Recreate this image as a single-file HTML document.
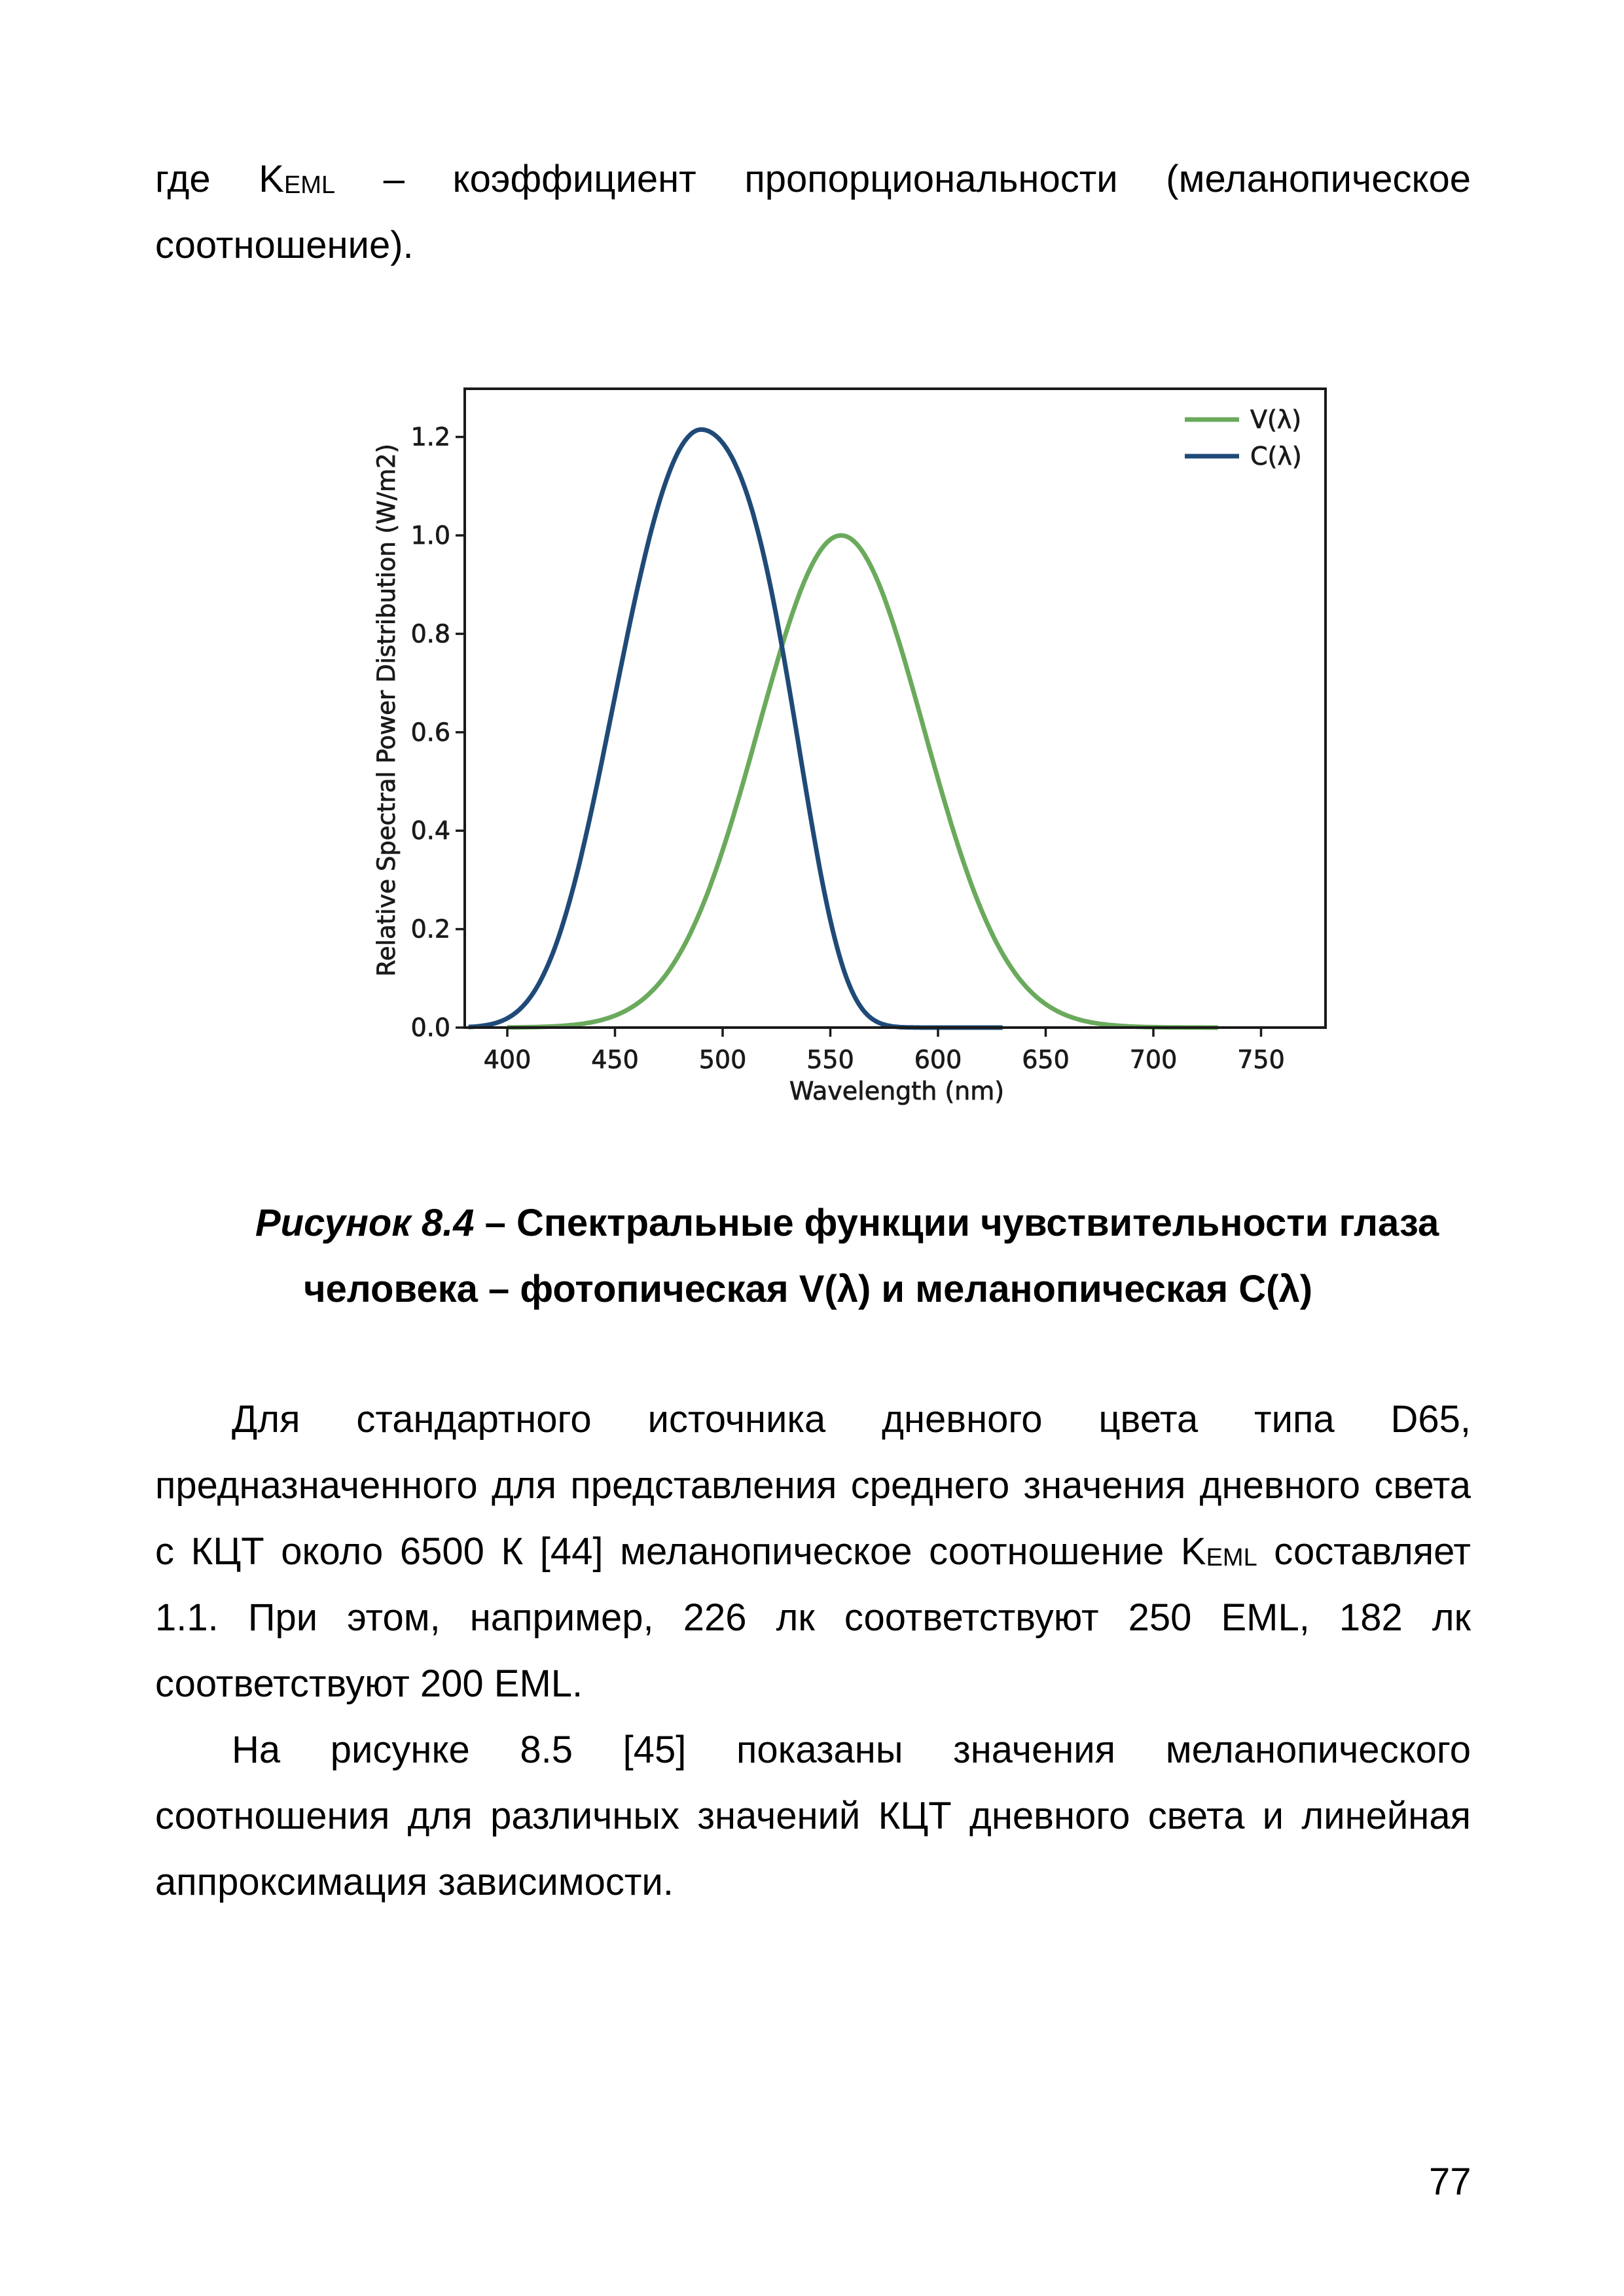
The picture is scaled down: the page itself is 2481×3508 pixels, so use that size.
<!DOCTYPE html>
<html><head><meta charset="utf-8">
<style>
html,body{margin:0;padding:0;background:#fff;}
body{width:2481px;height:3508px;position:relative;overflow:hidden;font-family:"Liberation Sans","Noto Sans CJK SC",sans-serif;color:#000;}
.l{position:absolute;font-size:58px;line-height:58px;white-space:nowrap;}
.j{text-align:justify;text-align-last:justify;white-space:normal;}
sub{font-size:38px;vertical-align:baseline;position:relative;top:2px;}
.b{font-weight:bold;}
svg{position:absolute;left:0;top:0;}
</style></head><body>
<div class="l j" style="left:237px;width:2010px;top:245px">где K<sub>EML</sub> – коэффициент пропорциональности (меланопическое</div>
<div class="l" style="left:237px;top:346px">соотношение).</div>

<svg width="2481" height="1800" viewBox="0 0 2481 1800" font-family="DejaVu Sans, Liberation Sans, sans-serif">
<g id="curves" fill="none" stroke-width="7" stroke-linejoin="round"></g>
<rect x="710" y="594" width="1315" height="976" fill="none" stroke="#1a1a1a" stroke-width="4"/>
<g stroke="#1a1a1a" stroke-width="3.5" id="ticks"></g>
<g font-size="38" fill="#1a1a1a" stroke="#1a1a1a" stroke-width="0.8" id="labels"></g>
<text x="1370" y="1680" font-size="38" fill="#1a1a1a" stroke="#1a1a1a" stroke-width="0.8" text-anchor="middle">Wavelength (nm)</text>
<text transform="translate(603,1085) rotate(-90)" font-size="37" fill="#1a1a1a" stroke="#1a1a1a" stroke-width="0.8" text-anchor="middle">Relative Spectral Power Distribution (W/m2)</text>
<line x1="1810" y1="641" x2="1893" y2="641" stroke="#6aaa5c" stroke-width="7"/>
<line x1="1810" y1="697" x2="1893" y2="697" stroke="#1f4a78" stroke-width="7"/>
<text x="1910" y="654" font-size="38" fill="#1a1a1a" stroke="#1a1a1a" stroke-width="0.8">V(λ)</text>
<text x="1910" y="710" font-size="38" fill="#1a1a1a" stroke="#1a1a1a" stroke-width="0.8">C(λ)</text>
</svg>

<div class="l b" style="left:390px;top:1840px"><i>Рисунок 8.4</i> – Спектральные функции чувствительности глаза</div>
<div class="l b" style="left:464px;top:1941px">человека – фотопическая V(λ) и меланопическая C(λ)</div>

<div class="l j" style="left:354px;width:1893px;top:2140px">Для стандартного источника дневного цвета типа D65,</div>
<div class="l j" style="left:237px;width:2010px;top:2241px">предназначенного для представления среднего значения дневного света</div>
<div class="l j" style="left:237px;width:2010px;top:2342px">с КЦТ около 6500 К [44] меланопическое соотношение K<sub>EML</sub> составляет</div>
<div class="l j" style="left:237px;width:2010px;top:2443px">1.1. При этом, например, 226 лк соответствуют 250 EML, 182 лк</div>
<div class="l" style="left:237px;top:2544px">соответствуют 200 EML.</div>
<div class="l j" style="left:354px;width:1893px;top:2645px">На рисунке 8.5 [45] показаны значения меланопического</div>
<div class="l j" style="left:237px;width:2010px;top:2746px">соотношения для различных значений КЦТ дневного света и линейная</div>
<div class="l" style="left:237px;top:2847px">аппроксимация зависимости.</div>

<div class="l" style="left:2183px;top:3305px">77</div>

<script>
(function(){
var NS="http://www.w3.org/2000/svg";
function X(l){return 775+(l-400)*3.29;}
var B=1570,S=752;
function Y(v){return B-v*S;}
function V(l){var d=l-555,s=38.5;return Math.exp(-0.5*d*d/(s*s));}
function C(l){var d=l-490,d2=d*d,a,b;
 if(d<0){a=3.335e-4;b=2.23e-8;}else{a=2.19e-4;b=7.16e-8;}
 return 1.215*Math.exp(-a*d2-b*d2*d2);}
function path(f,a,b,col){var d="";for(var l=a;l<=b;l+=1){d+=(l==a?"M":"L")+X(l).toFixed(1)+","+Y(Math.max(0,f(l))).toFixed(1);}
var p=document.createElementNS(NS,"path");p.setAttribute("d",d);p.setAttribute("stroke",col);document.getElementById("curves").appendChild(p);}
path(V,400,730,"#6aaa5c");
path(C,382,630,"#1f4a78");
var t=document.getElementById("ticks"),lb=document.getElementById("labels");
function ln(x1,y1,x2,y2){var e=document.createElementNS(NS,"line");e.setAttribute("x1",x1);e.setAttribute("y1",y1);e.setAttribute("x2",x2);e.setAttribute("y2",y2);t.appendChild(e);}
function tx(x,y,s,a){var e=document.createElementNS(NS,"text");e.setAttribute("x",x);e.setAttribute("y",y);e.setAttribute("text-anchor",a);e.textContent=s;lb.appendChild(e);}
for(var l=400;l<=750;l+=50){ln(X(l),1570,X(l),1584);tx(X(l),1632,""+l,"middle");}
for(var i=0;i<=6;i++){var v=i*0.2;ln(696,Y(v),710,Y(v));tx(688,Y(v)+13,v.toFixed(1),"end");}
})();
</script>
</body></html>
